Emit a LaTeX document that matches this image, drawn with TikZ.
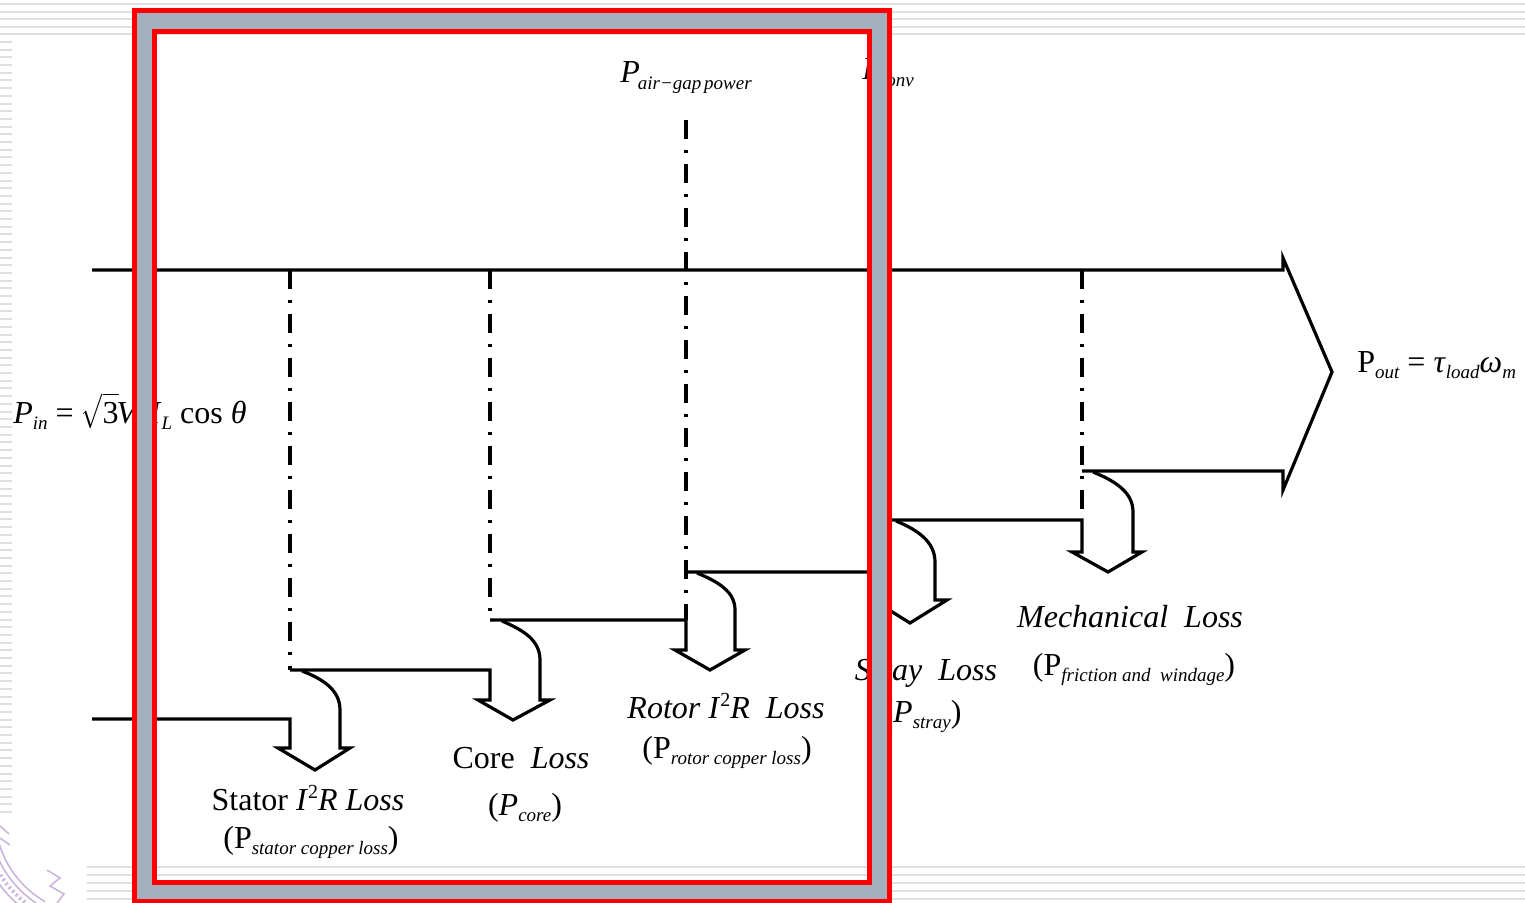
\documentclass[tikz,border=0pt]{standalone}
\usepackage{fontspec}
\usepackage{graphicx}
\setmainfont{Liberation Serif}
\definecolor{framegray}{RGB}{162,176,190}
\definecolor{bgline}{RGB}{224,224,224}
\definecolor{logo}{RGB}{205,180,220}
\newcommand\subs[1]{\raisebox{-0.45ex}{\fontsize{9.5}{10}\selectfont\itshape #1}}
\newcommand\sups[1]{\raisebox{0.8ex}{\fontsize{10}{10}\selectfont #1}}
\begin{document}
\begin{tikzpicture}[x=0.5pt,y=-0.5pt,
  flow/.style={line width=1.6pt, line join=miter},
  dd/.style={line width=1.6pt, dash pattern=on 9.5pt off 5.5pt on 1.5pt off 5.5pt},
  bg/.style={draw=bgline, line width=1pt},
  lbl/.style={inner sep=0pt, font=\fontsize{16}{18}\selectfont},
  logoline/.style={draw=logo, line width=0.8pt}]
\useasboundingbox (0,0) rectangle (1525,903);
% slide background
\foreach \yy in {4,12,19,27,34} \draw[bg] (0,\yy) -- (1525,\yy);
\foreach \i in {0,...,100} \draw[bg] (0,42+7.7*\i) -- (12,42+7.7*\i);
\foreach \yy in {867,875,883,891,899} \draw[bg] (87,\yy) -- (1525,\yy);
\begin{scope}
  \clip (0,818) rectangle (45,903);
  \draw[logoline] (95,815) circle[radius=50pt];
  \draw[logoline] (95,815) circle[radius=53pt];
  \draw[logoline, dash pattern=on 1pt off 1.5pt, line width=2pt] (95,815) circle[radius=56pt];
  \draw[logoline] (95,815) circle[radius=59pt];
\end{scope}
\draw[logoline] (0,826) -- (9,834);
\draw[logoline] (0,838) -- (10,845);
\draw[logoline] (47,870) -- (60,878) -- (50,886) -- (64,894) -- (57,903);
% coordinates
\coordinate (a0) at (92,270);
\coordinate (tipTop) at (1283,258);
\coordinate (tip) at (1332,372);
\coordinate (tipBot) at (1283,490);
% main power flow
\draw[flow] (a0) -- (1283,270) -- (tipTop) -- (tip) -- (tipBot) -- (1283,471) -- (1082,471);
% input and stator loss
\draw[flow] (92,719) -- (290,719) -- (290,748) -- (278,748) -- (315,770) -- (350,748) -- (340,748) -- (340,710) .. controls (340,690) and (323,679) .. (302,671);
\draw[dd] (290,270) -- (290,670);
% core loss
\draw[flow] (290,670) -- (490,670) -- (490,700) -- (478,700) -- (513,720) -- (550,700) -- (540,700) -- (540,660) .. controls (540,640) and (523,630) .. (502,621);
\draw[dd] (490,270) -- (490,620);
% rotor loss
\draw[flow] (490,620) -- (686,620) -- (686,650) -- (675,650) -- (710,670) -- (745,650) -- (735,650) -- (735,610) .. controls (735,592) and (719,582) .. (697,573);
\draw[dd] (686,120) -- (686,620);
% stray loss
\draw[flow] (686,572) -- (885,572) -- (885,600) -- (873,600) -- (910,623) -- (947,600) -- (935,600) -- (935,562) .. controls (935,542) and (918,530) .. (896,521);
\draw[dd] (885,270) -- (885,572);
% mechanical loss
\draw[flow] (885,520) -- (1082,520) -- (1082,552) -- (1072,552) -- (1108,572) -- (1142,552) -- (1133,552) -- (1133,512) .. controls (1133,492) and (1115,481) .. (1093,472);
\draw[dd] (1082,270) -- (1082,520);
% labels
\node[lbl, anchor=base west] (pin) at (13,423) {\textit{P}\subs{in} = \scalebox{0.72}[1]{$\sqrt{\hbox{\scalebox{1.39}[1]{3}}}$}\kern-1pt\textit{V}\subs{L}\textit{I}\subs{L} cos \textit{θ}};
\node[lbl, anchor=base west] (pag) at (620,83) {\textit{P}\subs{\kern-1pt air−gap\kern-1pt\ power}};
\node[lbl, anchor=base west] (pconv) at (862,80) {\textit{P}\subs{\kern-2pt conv}};
\node[lbl, anchor=base west] (pout) at (1357,372) {P\subs{out} = \textit{τ}\subs{load}\textit{ω}\subs{m}};
\node[lbl, anchor=base] (st1) at (308,810) {Stator \textit{I}\sups{2}\textit{R Loss}};
\node[lbl, anchor=base] (st2) at (311,848) {(P\subs{stator copper loss})};
\node[lbl, anchor=base] (co1) at (521,768) {Core\ \ \textit{Loss}};
\node[lbl, anchor=base] (co2) at (525,815) {(\textit{P}\subs{core})};
\node[lbl, anchor=base] (ro1) at (726,718) {\textit{Rotor I}\sups{2}\textit{R\ \ Loss}};
\node[lbl, anchor=base] (ro2) at (727,758) {(P\subs{rotor copper loss})};
\node[lbl, anchor=base] (sy1) at (926,680) {\textit{Stray\ \ Loss}};
\node[lbl, anchor=base] (sy2) at (922,722) {(\textit{P}\subs{stray})};
\node[lbl, anchor=base] (me1) at (1130,627) {\textit{Mechanical\ \ Loss}};
\node[lbl, anchor=base] (me2) at (1134,675) {(P\subs{friction and\ \ windage})};
% frame on top
\fill[framegray, even odd rule] (132,8) rectangle (892,904) (154,31) rectangle (870,882);
\draw[red, line width=2.5pt] (134.5,10.5) rectangle (889.5,901.5);
\draw[red, line width=2.5pt] (154.5,31.5) rectangle (869.5,882);
\end{tikzpicture}
\end{document}
